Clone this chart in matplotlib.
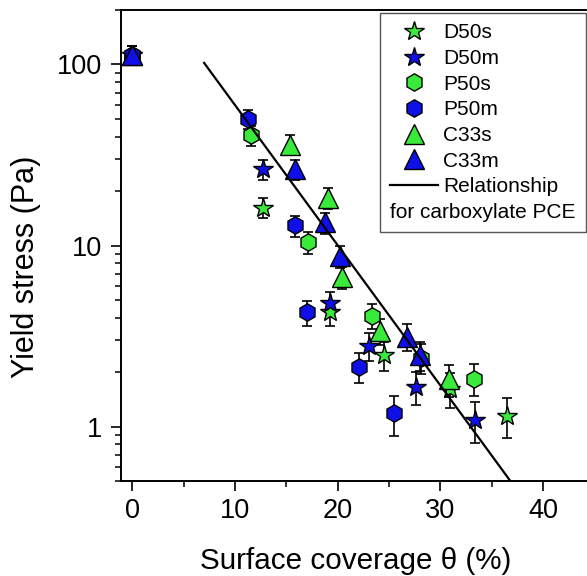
import matplotlib
matplotlib.use("Agg")
import matplotlib.pyplot as plt
from matplotlib.lines import Line2D
from matplotlib.ticker import FixedLocator, FixedFormatter, LogLocator, NullFormatter

plt.rcParams['font.family'] = ['Liberation Sans', 'DejaVu Sans']

# ---- data ----
D50s_x = [0, 12.7, 19.2, 24.5, 30.9, 36.5]
D50s_y = [113, 16.2, 4.27, 2.47, 1.62, 1.15]
D50s_e = [14, 2.1, 0.66, 0.45, 0.35, 0.29]

D50m_x = [0, 12.7, 19.2, 23.0, 27.6, 33.4]
D50m_y = [113, 26.3, 4.79, 2.80, 1.66, 1.09]
D50m_e = [14, 3.3, 0.72, 0.49, 0.35, 0.28]

P50s_x = [0, 11.6, 17.1, 23.3, 28.1, 33.3]
P50s_y = [113, 40.6, 10.4, 4.1, 2.4, 1.84]
P50s_e = [14, 5.0, 1.4, 0.64, 0.44, 0.37]

P50m_x = [0, 11.3, 15.8, 17.0, 22.1, 25.5]
P50m_y = [113, 50, 12.9, 4.27, 2.14, 1.18]
P50m_e = [14, 6.2, 1.7, 0.66, 0.41, 0.29]

C33s_x = [0, 15.4, 19.1, 20.4, 24.1, 30.8]
C33s_y = [113, 36.1, 18.4, 6.7, 3.39, 1.82]
C33s_e = [14, 4.5, 2.4, 0.95, 0.56, 0.37]

C33m_x = [0, 15.8, 18.8, 20.2, 26.7, 28.0]
C33m_y = [113, 26.3, 13.4, 8.7, 3.14, 2.47]
C33m_e = [14, 3.3, 1.8, 1.2, 0.53, 0.45]

fit_x = [7.0, 36.8]
fit_y = [102, 0.5]

xtick_vals = [0, 10, 20, 30, 40]
xtick_labels = ['0', '10', '20', '30', '40']
ytick_vals = [1, 10, 100]
ytick_labels = ['1', '10', '100']

GREEN = '#3aea3a'
BLUE = '#0f0fe8'

series = [
    ('D50s', D50s_x, D50s_y, D50s_e, '*', GREEN, 14.5),
    ('D50m', D50m_x, D50m_y, D50m_e, '*', BLUE, 14.5),
    ('P50s', P50s_x, P50s_y, P50s_e, 'h', GREEN, 12.5),
    ('P50m', P50m_x, P50m_y, P50m_e, 'h', BLUE, 12.5),
    ('C33s', C33s_x, C33s_y, C33s_e, '^', GREEN, 14),
    ('C33m', C33m_x, C33m_y, C33m_e, '^', BLUE, 14),
]

W, H = 587, 576
fig = plt.figure(figsize=(W / 100, H / 100), dpi=100)
ax = fig.add_axes([121 / W, (H - 481) / H, (590 - 121) / W, (481 - 10) / H])

handles = []
for name, xs, ys, es, mk, col, ms in series:
    ax.errorbar(xs, ys, yerr=es, fmt='none', ecolor='black', elinewidth=1.2,
                capsize=3.6, capthick=1.2, zorder=2)
    ax.plot(xs, ys, linestyle='none', marker=mk, markersize=ms,
            markerfacecolor=col, markeredgecolor='black', markeredgewidth=1.0,
            zorder=3)
    handles.append(Line2D([], [], linestyle='none', marker=mk, markersize=ms,
                          markerfacecolor=col, markeredgecolor='black',
                          markeredgewidth=1.0, label=name))

ax.plot(fit_x, fit_y, color='black', linewidth=1.6, zorder=4)
handles.append(Line2D([], [], color='black', linewidth=1.6, label='Relationship'))
handles.append(Line2D([], [], linestyle='none', label=' '))

ax.set_yscale('log')
ax.set_xlim(-1.09, 44.55)
ax.set_ylim(0.5, 200)

ax.xaxis.set_major_locator(FixedLocator(xtick_vals))
ax.xaxis.set_major_formatter(FixedFormatter(xtick_labels))
ax.xaxis.set_minor_locator(FixedLocator([5, 15, 25, 35]))
ax.yaxis.set_major_locator(FixedLocator(ytick_vals))
ax.yaxis.set_major_formatter(FixedFormatter(ytick_labels))
ax.yaxis.set_minor_locator(LogLocator(base=10, subs=range(2, 10)))
ax.yaxis.set_minor_formatter(NullFormatter())

ax.tick_params(which='major', direction='out', length=7, width=1.2,
               labelsize=19.5)
ax.tick_params(axis='y', which='major', pad=6.5)
ax.tick_params(axis='x', which='major', pad=5.5)
ax.tick_params(which='minor', direction='out', length=4.3, width=1.1)
ax.tick_params(top=False, right=False)
for s in ax.spines.values():
    s.set_linewidth(1.4)

fig.text(26.5 / W, (H - 267) / H, 'Yield stress (Pa)', rotation=90,
         ha='center', va='center', fontsize=22)
fig.text(356 / W, (H - 569) / H, 'Surface coverage \u03b8 (%)',
         ha='center', va='baseline', fontsize=21.3)

leg = ax.legend(handles=handles, loc='upper left',
                bbox_to_anchor=(380 / W, (H - 13) / H, 206 / W, 0.0001),
                bbox_transform=fig.transFigure, mode='expand',
                borderaxespad=0, fontsize=15, handlelength=2.3,
                handletextpad=0.24, labelspacing=0.32, borderpad=0.5,
                fancybox=False, framealpha=1, edgecolor='#555555')
leg.get_frame().set_linewidth(1.0)

fig.canvas.draw()
rend = fig.canvas.get_renderer()
fb = leg.get_frame().get_window_extent(rend)
tb = leg.get_texts()[-1].get_window_extent(rend)
fig.text((fb.x0 + 10) / W, ((tb.y0 + tb.y1) / 2) / H, 'for carboxylate PCE',
         ha='left', va='center', fontsize=15)

fig.savefig('out.png', dpi=100)
